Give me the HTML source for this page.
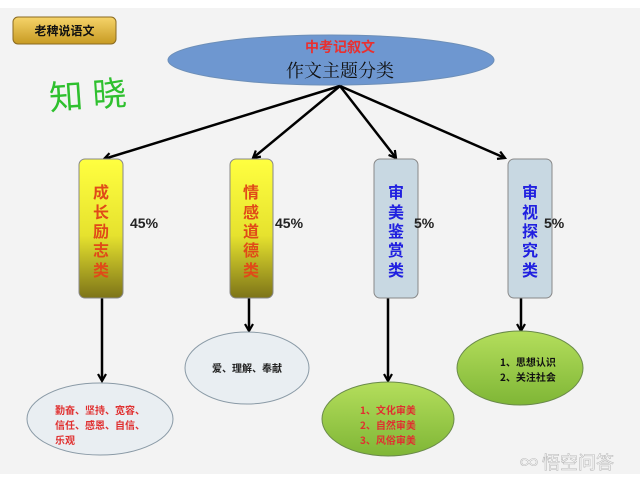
<!DOCTYPE html>
<html><head><meta charset="utf-8"><style>
html,body{margin:0;padding:0;background:#fff;}
#c{position:relative;width:640px;height:484px;overflow:hidden;background:#fff;}
</style></head><body><div id="c">
<svg width="640" height="484" xmlns="http://www.w3.org/2000/svg" style="position:absolute;left:0;top:0">
<defs>
<linearGradient id="gold" x1="0" y1="0" x2="0" y2="1"><stop offset="0" stop-color="#f6d46a"/><stop offset="1" stop-color="#c79a22"/></linearGradient>
<linearGradient id="yel" x1="0" y1="0" x2="0" y2="1"><stop offset="0" stop-color="#ffff40"/><stop offset="0.55" stop-color="#e6e22e"/><stop offset="1" stop-color="#7d7418"/></linearGradient>
<linearGradient id="grn" x1="0" y1="0" x2="0" y2="1"><stop offset="0" stop-color="#b4de5c"/><stop offset="1" stop-color="#7fb636"/></linearGradient>
<marker id="ar" markerWidth="10" markerHeight="10" refX="8" refY="5" orient="auto" markerUnits="userSpaceOnUse"><path d="M1,1 L8,5 L1,9" fill="none" stroke="#000" stroke-width="2.2"/></marker>
</defs>
<rect x="0" y="8" width="640" height="466" fill="#f3f3f3"/>
<rect x="13" y="17" width="103" height="27" rx="5" fill="url(#gold)" stroke="#8a6a20"/>
<text x="64.5" y="35" font-size="12" font-weight="bold" text-anchor="middle" font-family="Noto Sans CJK SC,sans-serif" fill="#111">老稗说语文</text>
<text x="50" y="110" font-size="34" fill="#2ec02e" font-family="WenQuanYi Zen Hei,sans-serif" transform="rotate(-4 50 110)">知 晓</text>
<ellipse cx="331" cy="60" rx="163" ry="25" fill="#6e97d0" stroke="#6d8fb8"/>
<text x="340" y="52" font-size="14" font-weight="bold" text-anchor="middle" font-family="Noto Sans CJK SC,sans-serif" fill="#e83030">中考记叙文</text>
<text x="340" y="77" font-size="18" text-anchor="middle" font-family="Noto Serif CJK SC,serif" fill="#111">作文主题分类</text>
<g stroke="#000" stroke-width="2.5" fill="none" marker-end="url(#ar)">
<line x1="340" y1="86" x2="104" y2="159"/>
<line x1="340" y1="86" x2="253" y2="158"/>
<line x1="340" y1="86" x2="396" y2="158"/>
<line x1="340" y1="86" x2="505" y2="158"/>
<line x1="102" y1="298" x2="102" y2="381"/>
<line x1="249" y1="298" x2="249" y2="331"/>
<line x1="388" y1="298" x2="388" y2="381"/>
<line x1="521" y1="298" x2="521" y2="331"/>
</g>
<rect x="79" y="159" width="44" height="139" rx="6" fill="url(#yel)" stroke="#888"/>
<rect x="230" y="159" width="43" height="139" rx="6" fill="url(#yel)" stroke="#888"/>
<rect x="374" y="159" width="44" height="139" rx="6" fill="#c8d8e2" stroke="#888"/>
<rect x="508" y="159" width="44" height="139" rx="6" fill="#c8d8e2" stroke="#888"/>
<g font-size="16" font-weight="bold" text-anchor="middle" font-family="Noto Sans CJK SC,sans-serif">
<g fill="#e04a18"><text x="101" y="198">成</text><text x="101" y="218">长</text><text x="101" y="237">励</text><text x="101" y="256">志</text><text x="101" y="276">类</text>
<text x="251" y="198">情</text><text x="251" y="218">感</text><text x="251" y="237">道</text><text x="251" y="256">德</text><text x="251" y="276">类</text></g>
<g fill="#2020e0"><text x="396" y="198">审</text><text x="396" y="218">美</text><text x="396" y="237">鉴</text><text x="396" y="256">赏</text><text x="396" y="276">类</text>
<text x="530" y="198">审</text><text x="530" y="218">视</text><text x="530" y="237">探</text><text x="530" y="256">究</text><text x="530" y="276">类</text></g>
</g>
<g font-size="14" font-weight="bold" font-family="Liberation Sans,sans-serif" fill="#222">
<text x="130" y="228">45%</text><text x="275" y="228">45%</text><text x="414" y="228">5%</text><text x="544" y="228">5%</text></g>
<ellipse cx="100" cy="419" rx="73" ry="36" fill="#e9eef2" stroke="#8a9aa6"/>
<ellipse cx="247" cy="368" rx="62" ry="36" fill="#e9eef2" stroke="#8a9aa6"/>
<ellipse cx="388" cy="419" rx="66" ry="37" fill="url(#grn)" stroke="#6a8a4a"/>
<ellipse cx="520" cy="368" rx="63" ry="37" fill="url(#grn)" stroke="#6a8a4a"/>
<g font-size="10" font-weight="bold" font-family="Noto Sans CJK SC,sans-serif">
<g fill="#e03030"><text x="55" y="414">勤奋、坚持、宽容、</text><text x="55" y="429">信任、感恩、自信、</text><text x="55" y="444">乐观</text></g>
<text x="247" y="372" text-anchor="middle" fill="#222">爱、理解、奉献</text>
<g fill="#e03030"><text x="360" y="414">1、文化审美</text><text x="360" y="429">2、自然审美</text><text x="360" y="444">3、风俗审美</text></g>
<g fill="#111"><text x="500" y="366">1、思想认识</text><text x="500" y="381">2、关注社会</text></g>
</g>
<text x="520" y="469" font-size="18" font-family="Noto Sans CJK SC,sans-serif" fill="#fff" stroke="#bbb" stroke-width="0.6">∞ 悟空问答</text>
</svg>
</div></body></html>
